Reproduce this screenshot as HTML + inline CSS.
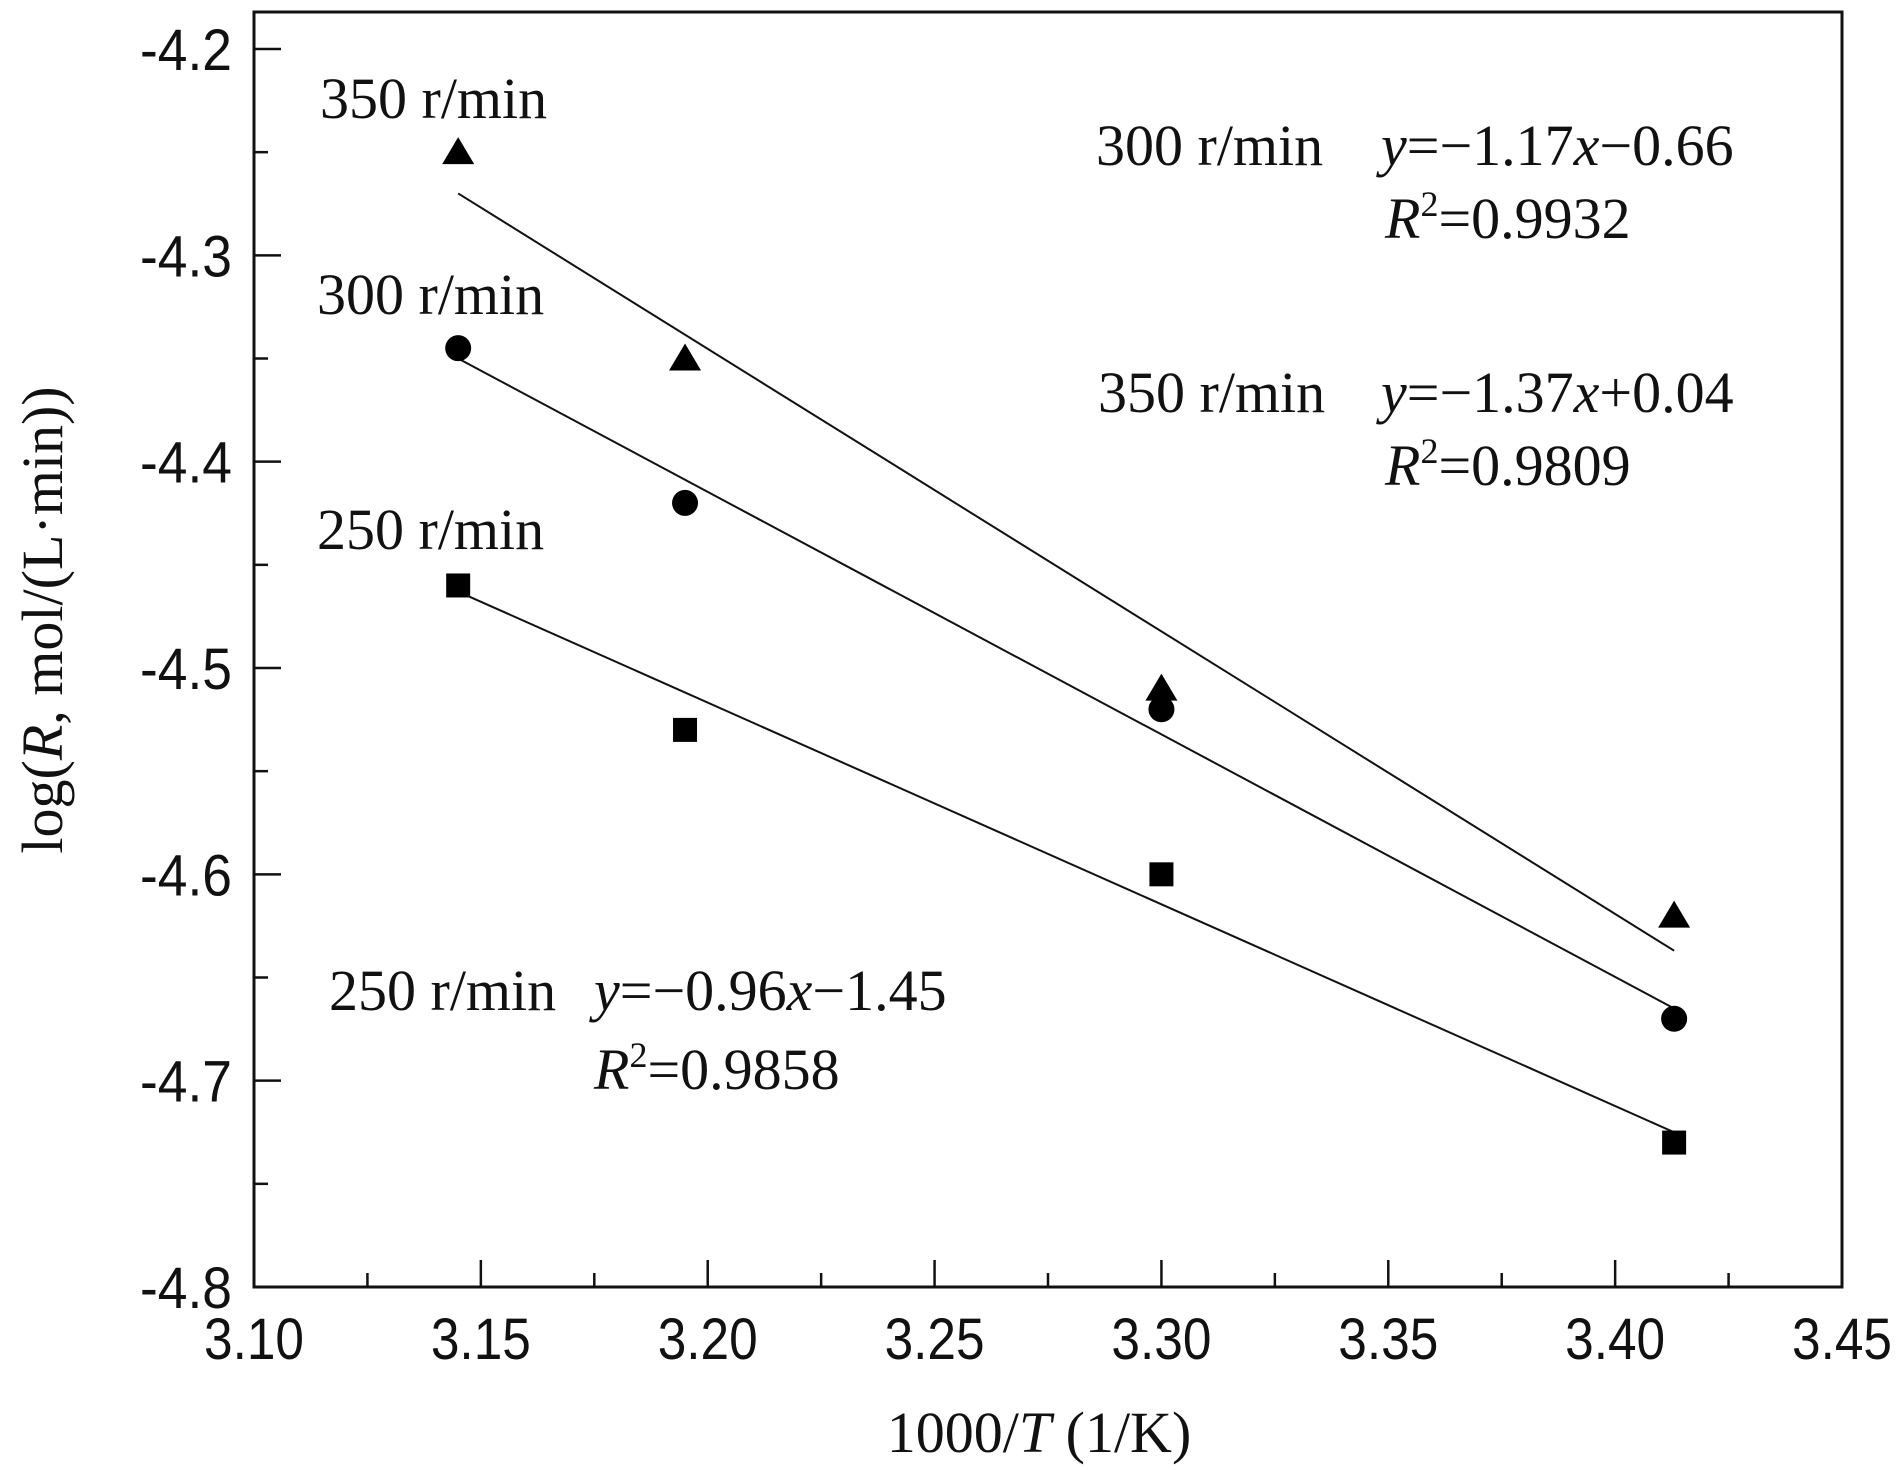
<!DOCTYPE html>
<html><head><meta charset="utf-8"><style>
html,body{margin:0;padding:0;background:#fff;}
svg{display:block;}
.tk{font-family:"Liberation Sans",sans-serif;font-size:58px;fill:#111;}
.an{font-family:"Liberation Serif",serif;font-size:58px;fill:#111;}
</style></head><body>
<svg id="chart" width="1903" height="1470" viewBox="0 0 1903 1470" xmlns="http://www.w3.org/2000/svg">
<g id="axes"></g>
<g id="marks"></g>
<g>
<text class="an" x="320" y="118">350 r/min</text>
<text class="an" x="317" y="314">300 r/min</text>
<text class="an" x="317" y="549">250 r/min</text>
<text class="an" x="1096" y="165">300 r/min</text>
<text class="an" x="1381" y="165"><tspan font-style="italic">y</tspan>=−1.17<tspan font-style="italic">x</tspan>−0.66</text>
<text class="an" x="1385" y="238"><tspan font-style="italic">R</tspan><tspan font-size="36" dy="-22">2</tspan><tspan dy="22">=0.9932</tspan></text>
<text class="an" x="1098" y="412">350 r/min</text>
<text class="an" x="1381" y="412"><tspan font-style="italic">y</tspan>=−1.37<tspan font-style="italic">x</tspan>+0.04</text>
<text class="an" x="1385" y="485"><tspan font-style="italic">R</tspan><tspan font-size="36" dy="-22">2</tspan><tspan dy="22">=0.9809</tspan></text>
<text class="an" x="329" y="1010">250 r/min</text>
<text class="an" x="594" y="1010"><tspan font-style="italic">y</tspan>=−0.96<tspan font-style="italic">x</tspan>−1.45</text>
<text class="an" x="594" y="1089"><tspan font-style="italic">R</tspan><tspan font-size="36" dy="-22">2</tspan><tspan dy="22">=0.9858</tspan></text>
<text class="an" x="1039" y="1452" text-anchor="middle">1000/<tspan font-style="italic">T</tspan> (1/K)</text>
<text class="an" transform="translate(62,620) rotate(-90)" text-anchor="middle">log(<tspan font-style="italic">R</tspan>, mol/(L·min))</text>
</g>
</svg>
<script>
const xTicks=[3.10,3.15,3.20,3.25,3.30,3.35,3.40,3.45];
const xTickLabels=["3.10","3.15","3.20","3.25","3.30","3.35","3.40","3.45"];
const yTicks=[-4.2,-4.3,-4.4,-4.5,-4.6,-4.7,-4.8];
const yTickLabels=["-4.2","-4.3","-4.4","-4.5","-4.6","-4.7","-4.8"];
const xValues=[3.145,3.195,3.30,3.413];
const rpm350=[-4.25,-4.35,-4.51,-4.62];
const rpm300=[-4.345,-4.42,-4.52,-4.67];
const rpm250=[-4.46,-4.53,-4.60,-4.73];
const fitX=[3.145,3.413];
const fit350=[-4.27,-4.637];
const fit300=[-4.35,-4.665];
const fit250=[-4.463,-4.725];

const L=254,R=1842,T=12,B=1287;
const X=v=>L+(v-3.10)/0.35*(R-L);
const Y=v=>49+(-4.2-v)/0.6*(1287-49);
const NS="http://www.w3.org/2000/svg";
function mk(tag,attrs,parent){const e=document.createElementNS(NS,tag);for(const k in attrs)e.setAttribute(k,attrs[k]);parent.appendChild(e);return e;}
const ax=document.getElementById('axes'),mg=document.getElementById('marks');
let fr=mk('rect',{x:L,y:T,width:R-L,height:B-T,fill:'none',stroke:'#111','stroke-width':3},ax);


xTicks.forEach((v,i)=>{
  let t=mk('line',{x1:X(v),x2:X(v),y1:B,y2:B-27,stroke:'#111','stroke-width':2.5},ax);
  
  
  if(i<xTicks.length-1){let m=mk('line',{x1:X(v+0.025),x2:X(v+0.025),y1:B,y2:B-14,stroke:'#111','stroke-width':2.5},ax);
  
  }
  let tx=mk('text',{x:X(v),y:1359,'text-anchor':'middle','class':'tk',textLength:100,lengthAdjust:'spacingAndGlyphs'},ax);
  tx.textContent=xTickLabels[i];
  
  
});
yTicks.forEach((v,i)=>{
  let t=mk('line',{x1:L,x2:L+27,y1:Y(v),y2:Y(v),stroke:'#111','stroke-width':2.5},ax);
  
  
  if(i<yTicks.length-1){let m=mk('line',{x1:L,x2:L+14,y1:Y(v-0.05),y2:Y(v-0.05),stroke:'#111','stroke-width':2.5},ax);
  
  }
  let tx=mk('text',{x:232,y:Y(v)+21,'text-anchor':'end','class':'tk',textLength:92,lengthAdjust:'spacingAndGlyphs'},ax);
  tx.textContent=yTickLabels[i];
  
  
});
[[fit350,'fit-line-350'],[fit300,'fit-line-300'],[fit250,'fit-line-250']].forEach(([f,n])=>{
  let l=mk('line',{x1:X(fitX[0]),y1:Y(f[0]),x2:X(fitX[1]),y2:Y(f[1]),stroke:'#111','stroke-width':2},mg);
  
  
});
xValues.forEach((x,i)=>{
  let cx=X(x),cy=Y(rpm350[i]);
  let p=mk('polygon',{points:`${cx-16},${cy+12} ${cx+16},${cy+12} ${cx},${cy-15}`,fill:'#000'},mg);
  
  
  let c=mk('circle',{cx:cx,cy:Y(rpm300[i]),r:13,fill:'#000'},mg);
  
  
  let s=mk('rect',{x:cx-12,y:Y(rpm250[i])-12,width:24,height:24,fill:'#000'},mg);
  
  
});
</script>
</body></html>
